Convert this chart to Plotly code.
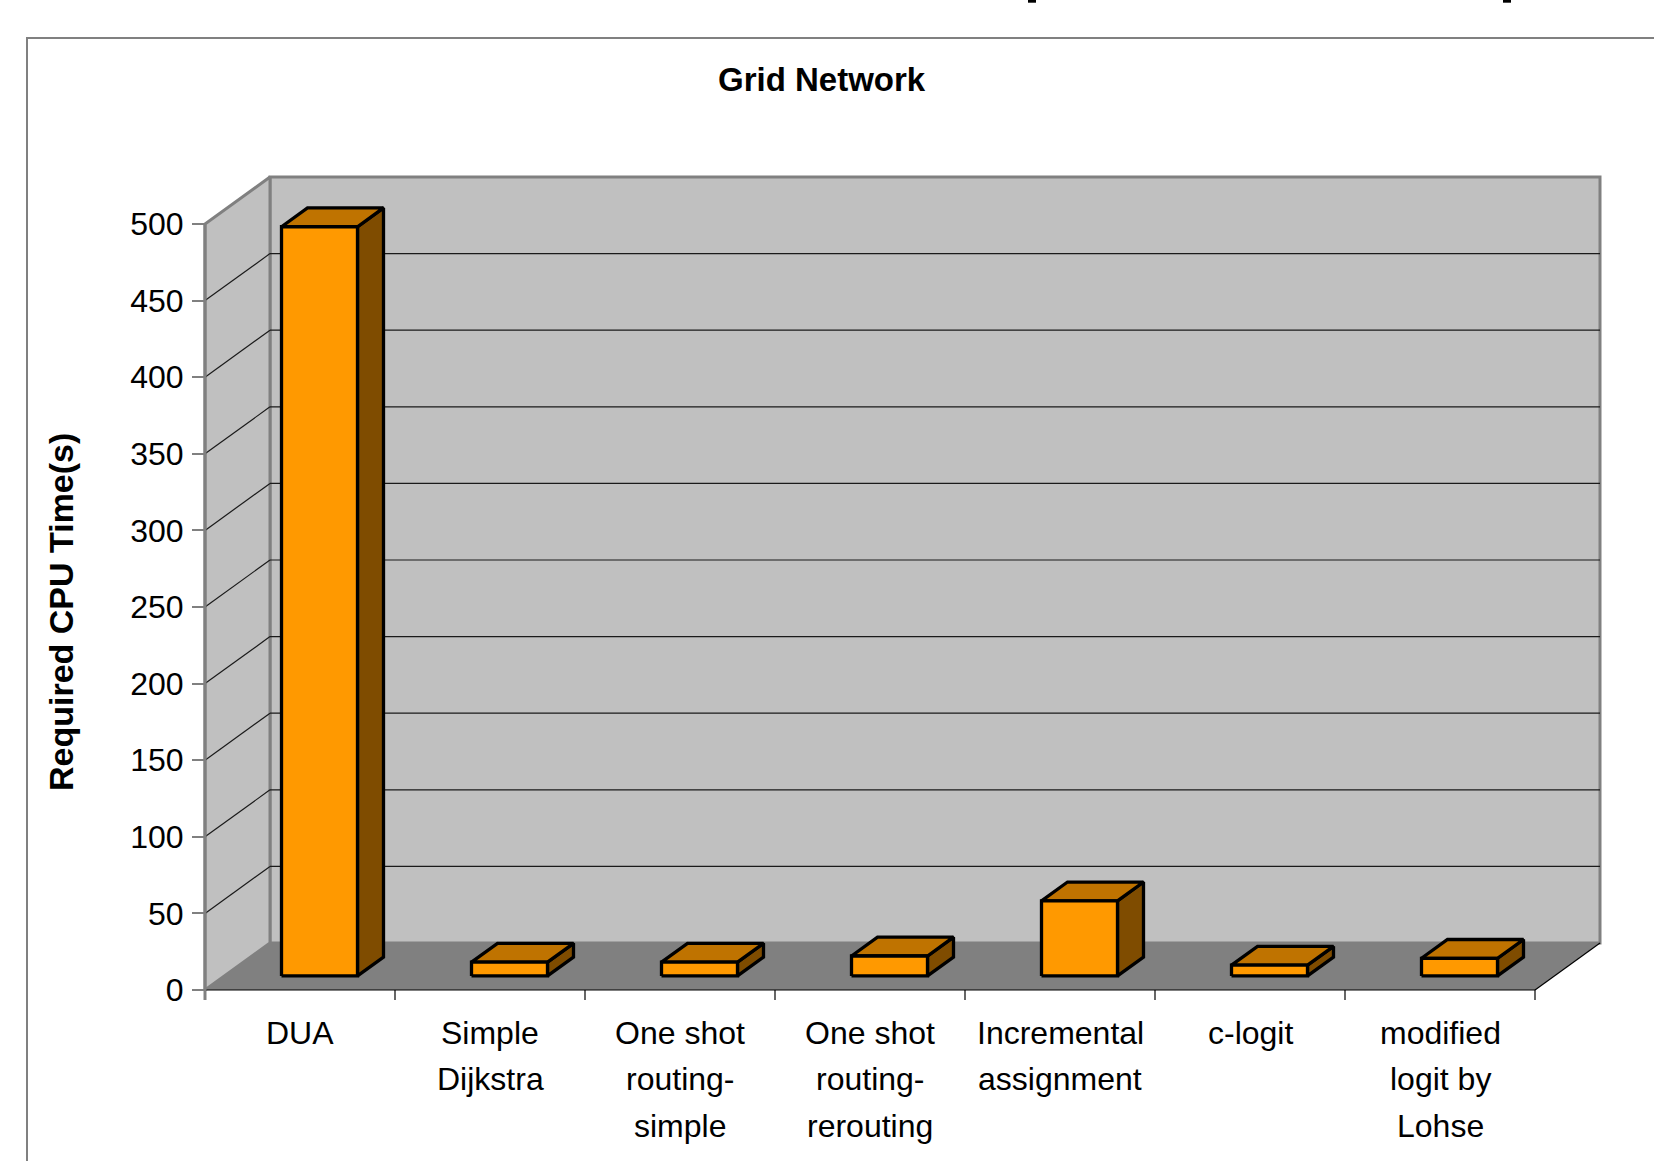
import plotly.graph_objects as go

# ---- data ----
categories = [
    "DUA",
    "Simple\nDijkstra",
    "One shot\nrouting-\nsimple",
    "One shot\nrouting-\nrerouting",
    "Incremental\nassignment",
    "c-logit",
    "modified\nlogit by\nLohse",
]
cpu_time = [489, 9, 9, 13, 49, 7, 11.5]
y_ticks = [0, 50, 100, 150, 200, 250, 300, 350, 400, 450, 500]
chart_title = "Grid Network"
y_title = "Required CPU Time(s)"

# ---- page geometry (pixels) ----
W, H = 1654, 1161
PX_LEFT = 205          # front-left corner of the plot box
PX_CAT = 190           # width of one category slot
PY_ZERO = 990          # front baseline
PY_PER_UNIT = 1.532    # pixels per second on the value axis
DEPTH_PX = (65, -47)   # perspective offset from front to back wall

FONT = "Liberation Sans, Arial, sans-serif"
FRONT, TOP, SIDE = "#FF9900", "#BF7300", "#7F4C00"
WALL, FLOOR, EDGE = "#C0C0C0", "#808080", "#808080"

n = len(categories)
x_lo, x_hi = -0.5, n - 0.5
v_top = y_ticks[-1]
DX = DEPTH_PX[0] / PX_CAT
DY = -DEPTH_PX[1] / PY_PER_UNIT

x_range = [(0 - PX_LEFT) / PX_CAT - 0.5, (W - PX_LEFT) / PX_CAT - 0.5]
y_range = [(PY_ZERO - H) / PY_PER_UNIT, PY_ZERO / PY_PER_UNIT]

fig = go.Figure()


def poly(xs, ys, fill=None, line_color=None, width=0):
    closed_x = list(xs) + [xs[0]]
    closed_y = list(ys) + [ys[0]]
    fig.add_trace(go.Scatter(
        x=closed_x, y=closed_y, mode="lines",
        fill="toself" if fill else None,
        fillcolor=fill,
        line=dict(color=line_color or "rgba(0,0,0,0)", width=width),
        hoverinfo="skip", showlegend=False,
    ))


def lines(segments, color, width):
    xs, ys = [], []
    for (xa, ya), (xb, yb) in segments:
        xs += [xa, xb, None]
        ys += [ya, yb, None]
    fig.add_trace(go.Scatter(
        x=xs, y=ys, mode="lines", line=dict(color=color, width=width),
        hoverinfo="skip", showlegend=False,
    ))


# back wall
poly([x_lo + DX, x_hi + DX, x_hi + DX, x_lo + DX],
     [DY, DY, v_top + DY, v_top + DY], fill=WALL, line_color=EDGE, width=3)
# side wall
poly([x_lo, x_lo + DX, x_lo + DX, x_lo],
     [0, DY, v_top + DY, v_top], fill=WALL, line_color=EDGE, width=3)
# floor
poly([x_lo, x_hi, x_hi + DX, x_lo + DX], [0, 0, DY, DY], fill=FLOOR)

# gridlines on the back and side walls
grid = []
for v in y_ticks[1:-1]:
    grid.append(((x_lo + DX, v + DY), (x_hi + DX, v + DY)))
    grid.append(((x_lo, v), (x_lo + DX, v + DY)))
lines(grid, "#1a1a1a", 1.2)

# floor edges and category axis
lines([((x_lo, 0), (x_hi, 0)), ((x_hi, 0), (x_hi + DX, DY))], "#000000", 1.2)
tick_drop = 10 / PY_PER_UNIT
lines([((x_lo + k, 0), (x_lo + k, -tick_drop)) for k in range(n + 1)], "#000000", 1.2)
# value axis line
lines([((x_lo, -tick_drop), (x_lo, v_top))], EDGE, 3)

# 3-D bars: gap width 150 %, gap depth 150 %
BAR_W = 1 / 2.5
D0, D1 = 0.3, 0.7
for i, v in enumerate(cpu_time):
    xa, xb = i - BAR_W / 2, i + BAR_W / 2
    fx, fy = D0 * DX, D0 * DY
    bx, by = D1 * DX, D1 * DY
    # right side
    poly([xb + fx, xb + bx, xb + bx, xb + fx],
         [fy, by, v + by, v + fy], fill=SIDE, line_color="black", width=3.3)
    # top
    poly([xa + fx, xb + fx, xb + bx, xa + bx],
         [v + fy, v + fy, v + by, v + by], fill=TOP, line_color="black", width=3.3)
    # front
    poly([xa + fx, xb + fx, xb + fx, xa + fx],
         [fy, fy, v + fy, v + fy], fill=FRONT, line_color="black", width=3.3)

# category labels, one annotation per text line
annotations = []
LINE_PY0, LINE_STEP = 1033, 46.4
for i, label in enumerate(categories):
    for j, part in enumerate(label.split("\n")):
        annotations.append(dict(
            x=i, xref="x", y=1 - (LINE_PY0 + j * LINE_STEP) / H, yref="paper",
            text=part, showarrow=False, xanchor="center", yanchor="middle",
            font=dict(family=FONT, size=32, color="black"),
        ))

annotations.append(dict(
    x=822 / W, y=1 - 79 / H, xref="paper", yref="paper", text=f"<b>{chart_title}</b>",
    showarrow=False, xanchor="center", yanchor="middle",
    font=dict(family=FONT, size=33, color="black"),
))
annotations.append(dict(
    x=61 / W, y=1 - 612 / H, xref="paper", yref="paper", text=f"<b>{y_title}</b>",
    showarrow=False, xanchor="center", yanchor="middle", textangle=-90,
    font=dict(family=FONT, size=34, color="black"),
))

shapes = [
    # outer chart frame
    dict(type="rect", xref="paper", yref="paper",
         x0=27 / W, x1=(W + 20) / W, y0=-0.05, y1=1 - 38 / H,
         line=dict(color="#808080", width=2), fillcolor="rgba(0,0,0,0)"),
]
for x0 in (1028, 1503):
    shapes.append(dict(type="rect", xref="paper", yref="paper",
                       x0=x0 / W, x1=(x0 + 8) / W, y0=1 - 2.7 / H, y1=1.01,
                       line=dict(width=0), fillcolor="black"))

fig.update_layout(
    width=W, height=H,
    margin=dict(l=0, r=0, t=0, b=0),
    paper_bgcolor="white", plot_bgcolor="white",
    xaxis=dict(range=x_range, visible=False, fixedrange=True),
    yaxis=dict(
        range=y_range, tickvals=y_ticks, ticks="outside", ticklen=13,
        tickwidth=2, tickcolor=EDGE, showline=False, showgrid=False,
        zeroline=False, anchor="free", position=PX_LEFT / W,
        tickfont=dict(family=FONT, size=32, color="black"),
        ticklabelstandoff=2, fixedrange=True,
    ),
    annotations=annotations,
    shapes=shapes,
    showlegend=False,
)

fig.write_html("out.html")
